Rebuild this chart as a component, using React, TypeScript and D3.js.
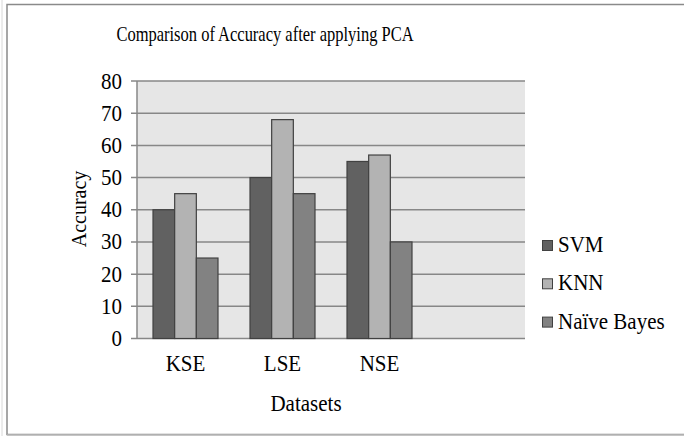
import React, { useEffect, useRef } from 'react';
import * as d3 from 'd3';

const categories = ['KSE', 'LSE', 'NSE', ''];
const seriesNames = ['SVM', 'KNN', 'Naïve Bayes'];
const svmValues = [40, 50, 55];
const knnValues = [45, 68, 57];
const nbValues = [25, 45, 30];
const yTicks = [0, 10, 20, 30, 40, 50, 60, 70, 80];

const colors = ['#616161', '#b3b3b3', '#828282'];

export default function App() {
  const svgRef = useRef<SVGSVGElement>(null);

  useEffect(() => {
    if (!svgRef.current) return;
    const svg = d3.select(svgRef.current);
    svg.selectAll('*').remove();

    const font = '"Liberation Serif", "Times New Roman", serif';
    const left = 137;
    const right = 525;
    const top = 81;
    const bottom = 338.5;

    // outer frame
    svg.append('line').attr('x1', 2).attr('x2', 2).attr('y1', 0).attr('y2', 436)
      .attr('stroke', '#d8d8d8').attr('stroke-width', 1);
    svg.append('rect').attr('x', 7).attr('y', 4.5).attr('width', 700).attr('height', 430)
      .attr('fill', '#fff').attr('stroke', '#8a8a8a').attr('stroke-width', 1.5);
    svg.append('line').attr('x1', 7).attr('x2', 684).attr('y1', 435).attr('y2', 435)
      .attr('stroke', '#bdbdbd').attr('stroke-width', 1.5);

    const series = [svmValues, knnValues, nbValues];

    const x = d3.scaleBand<string>()
      .domain(categories)
      .range([left, right])
      .paddingInner(0.33)
      .paddingOuter(0.165);

    const xs = d3.scaleBand<number>()
      .domain(d3.range(seriesNames.length))
      .range([0, x.bandwidth()]);

    const y = d3.scaleLinear().domain([0, 80]).range([bottom, top]);

    // plot area
    svg.append('rect')
      .attr('x', left).attr('y', top)
      .attr('width', right - left).attr('height', bottom - top)
      .attr('fill', '#e6e6e6');

    // gridlines + ticks
    svg.append('g')
      .selectAll('line')
      .data(yTicks)
      .enter()
      .append('line')
      .attr('x1', left - 6)
      .attr('x2', right)
      .attr('y1', (d) => y(d))
      .attr('y2', (d) => y(d))
      .attr('stroke', '#878787')
      .attr('stroke-width', 1.5);

    // y axis line
    svg.append('line')
      .attr('x1', left).attr('x2', left)
      .attr('y1', top).attr('y2', bottom)
      .attr('stroke', '#878787').attr('stroke-width', 1.5);

    // tick labels (text in the source is a bit taller than wide)
    svg.append('g')
      .selectAll('text')
      .data(yTicks)
      .enter()
      .append('text')
      .attr('transform', (d) => `translate(${left - 15},${y(d) + 7.5}) scale(1,1.08)`)
      .attr('text-anchor', 'end')
      .style('font-family', font)
      .style('font-size', '21px')
      .text((d) => d);

    // bars
    series.forEach((vals, si) => {
      svg.append('g')
        .selectAll('rect')
        .data(vals)
        .enter()
        .append('rect')
        .attr('x', (_d, i) => (x(categories[i]) as number) + (xs(si) as number))
        .attr('y', (d) => y(d))
        .attr('width', xs.bandwidth())
        .attr('height', (d) => y(0) - y(d))
        .attr('fill', colors[si])
        .attr('stroke', '#414141')
        .attr('stroke-width', 1.2);
    });

    // category labels
    svg.append('g')
      .selectAll('text')
      .data(categories)
      .enter()
      .append('text')
      .attr('transform', (d) => `translate(${(x(d) as number) + x.bandwidth() / 2},371) scale(1,1.08)`)
      .attr('text-anchor', 'middle')
      .style('font-family', font)
      .style('font-size', '21px')
      .text((d) => d);

    // title
    svg.append('text')
      .attr('transform', 'translate(265,41) scale(1,1.22)')
      .attr('text-anchor', 'middle')
      .style('font-family', font)
      .style('font-size', '16.5px')
      .text('Comparison of Accuracy after applying PCA');

    // axis titles
    svg.append('text')
      .attr('transform', 'translate(306,411) scale(1,1.08)')
      .attr('text-anchor', 'middle')
      .style('font-family', font)
      .style('font-size', '21px')
      .text('Datasets');

    svg.append('text')
      .attr('transform', 'translate(86,209) rotate(-90) scale(1,1.08)')
      .attr('text-anchor', 'middle')
      .style('font-family', font)
      .style('font-size', '20px')
      .text('Accuracy');

    // legend
    const legend = svg.append('g')
      .selectAll('g')
      .data(seriesNames)
      .enter()
      .append('g')
      .attr('transform', (_d, i) => `translate(542,${240 + i * 38.3})`);

    legend.append('rect')
      .attr('x', 0.5).attr('y', 0.5)
      .attr('width', 10).attr('height', 10)
      .attr('fill', (_d, i) => colors[i])
      .attr('stroke', '#414141')
      .attr('stroke-width', 1);

    legend.append('text')
      .attr('transform', 'translate(16,12) scale(1,1.08)')
      .style('font-family', font)
      .style('font-size', '21px')
      .text((d) => d);
  }, []);

  return (
    <div style={{ position: 'fixed', left: 0, top: 0 }}>
      <svg ref={svgRef} width={684} height={436} style={{ display: 'block' }}></svg>
    </div>
  );
}
